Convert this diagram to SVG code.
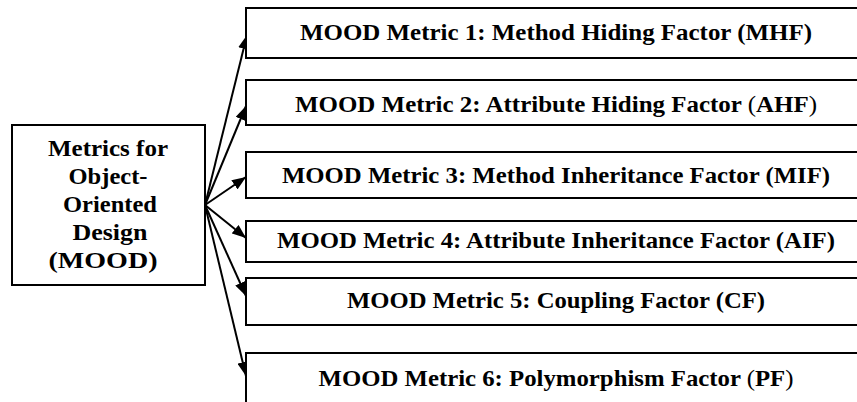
<svg xmlns="http://www.w3.org/2000/svg" width="857" height="402" viewBox="0 0 857 402">
<defs>
<style>
.box{fill:#fff;stroke:#000;stroke-width:2}
.t{font-family:"Liberation Serif","Times New Roman",serif;font-weight:bold;font-size:23px;fill:#000;text-anchor:middle}
.n{font-weight:normal}
.c{stroke:#000;stroke-width:2;fill:none;marker-end:url(#ah)}
</style>
<marker id="ah" viewBox="0 0 14 11" refX="14" refY="5.5" markerWidth="14" markerHeight="11" markerUnits="userSpaceOnUse" orient="auto">
<path d="M0,0 L14,5.5 L0,11 Z" fill="#000"/>
</marker>
</defs>
<rect width="857" height="402" fill="#fff"/>
<g id="connectors">
<line class="c" x1="205" y1="205" x2="247" y2="35"/>
<line class="c" x1="205" y1="205" x2="246" y2="106"/>
<line class="c" x1="205" y1="205" x2="246" y2="177"/>
<line class="c" x1="205" y1="205" x2="246" y2="238"/>
<line class="c" x1="205" y1="205" x2="246" y2="296"/>
<line class="c" x1="205" y1="205" x2="246" y2="376"/>
</g>
<g id="mood">
<rect class="box" x="12" y="125" width="193" height="160"/>
<text class="t" x="108" y="156" textLength="120" lengthAdjust="spacingAndGlyphs">Metrics for</text>
<text class="t" x="108" y="184" textLength="79" lengthAdjust="spacingAndGlyphs">Object-</text>
<text class="t" x="110" y="212" textLength="94" lengthAdjust="spacingAndGlyphs">Oriented</text>
<text class="t" x="110" y="240" textLength="75" lengthAdjust="spacingAndGlyphs">Design</text>
<text class="t" x="103" y="268" textLength="109" lengthAdjust="spacingAndGlyphs">(MOOD)</text>
</g>
<g id="m1">
<rect class="box" x="246" y="8" width="630" height="50"/>
<text class="t" x="556" y="40" textLength="512" lengthAdjust="spacingAndGlyphs">MOOD Metric 1: Method Hiding Factor (MHF)</text>
</g>
<g id="m2">
<rect class="box" x="246" y="80" width="630" height="45"/>
<text class="t" x="556" y="112" textLength="522" lengthAdjust="spacingAndGlyphs">MOOD Metric 2: Attribute Hiding Factor <tspan class="n">(</tspan>AHF<tspan class="n">)</tspan></text>
</g>
<g id="m3">
<rect class="box" x="246" y="152" width="630" height="46"/>
<text class="t" x="556" y="183" textLength="548" lengthAdjust="spacingAndGlyphs">MOOD Metric 3: Method Inheritance Factor (MIF)</text>
</g>
<g id="m4">
<rect class="box" x="246" y="221" width="630" height="41"/>
<text class="t" x="556" y="248" textLength="558" lengthAdjust="spacingAndGlyphs">MOOD Metric 4: Attribute Inheritance Factor (AIF)</text>
</g>
<g id="m5">
<rect class="box" x="246" y="278" width="630" height="47"/>
<text class="t" x="556" y="308" textLength="418" lengthAdjust="spacingAndGlyphs">MOOD Metric 5: Coupling Factor (CF)</text>
</g>
<g id="m6">
<rect class="box" x="246" y="353" width="630" height="60"/>
<text class="t" x="556" y="386" textLength="475" lengthAdjust="spacingAndGlyphs">MOOD Metric 6: Polymorphism Factor <tspan class="n">(</tspan>PF<tspan class="n">)</tspan></text>
</g>
</svg>
